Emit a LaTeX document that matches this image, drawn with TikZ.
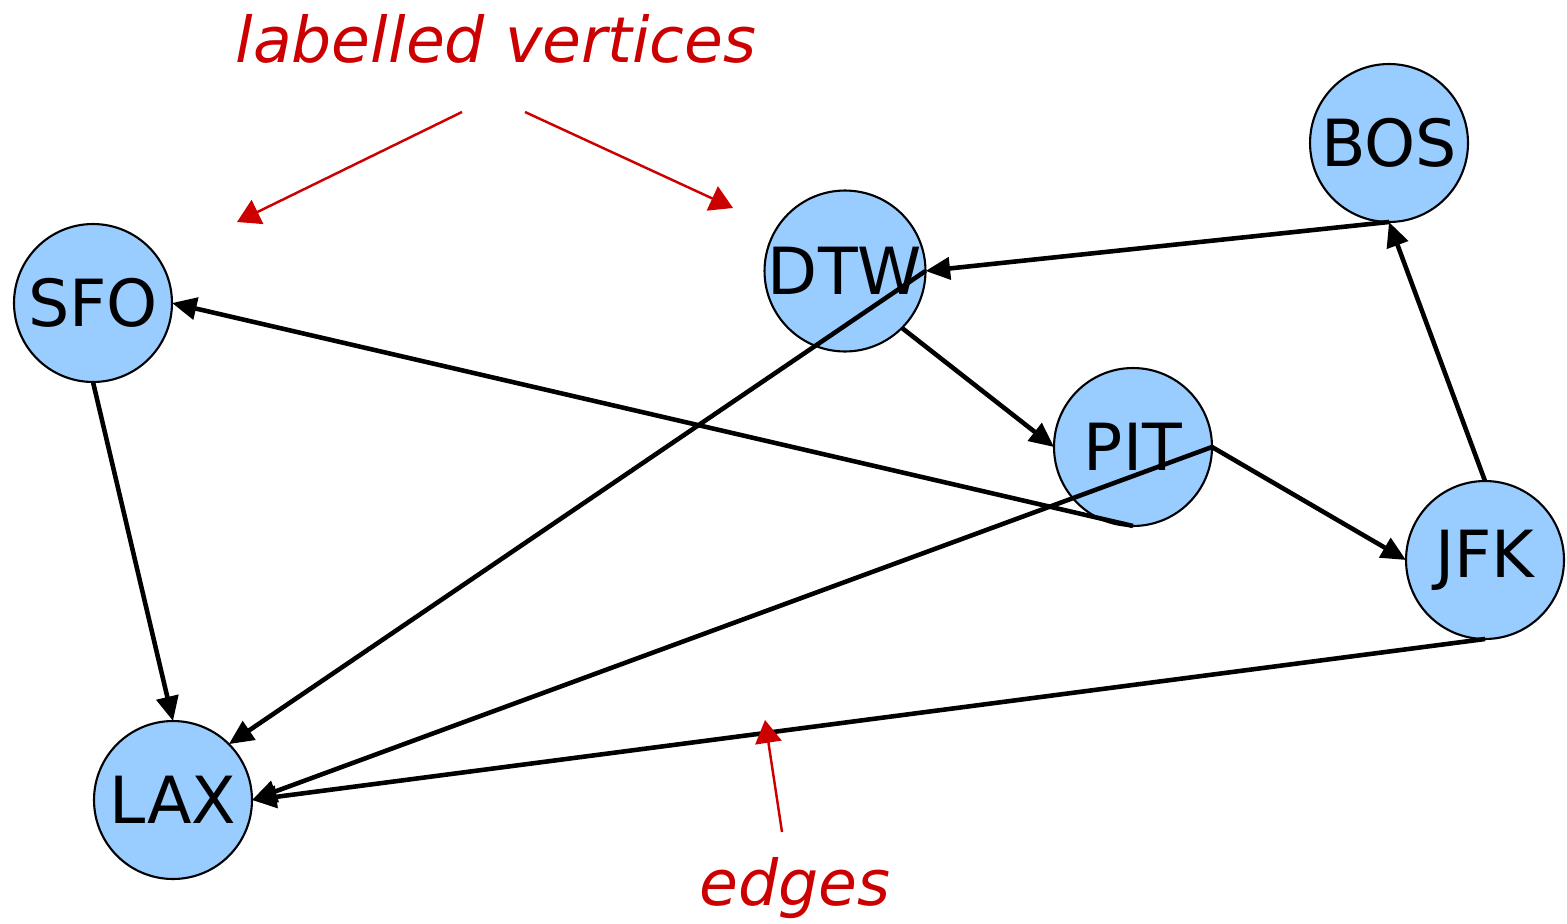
\documentclass[tikz,border=0pt]{standalone}
\usepackage{fontspec}
\setmainfont{DejaVu Sans}
\usetikzlibrary{arrows.meta}
\definecolor{vfill}{HTML}{99CCFF}
\definecolor{annot}{HTML}{CC0000}
\begin{document}
\begin{tikzpicture}[x=0.02cm,y=-0.02cm,
  vertex/.style={circle,draw=black,line width=1.2pt,fill=vfill,minimum size=3.16cm,
    inner sep=0pt,outer sep=0pt,font=\fontsize{37}{41}\selectfont},
  edge/.style={line width=2.6pt,-{Triangle[length=14pt,width=12.5pt]}},
  note/.style={annot,line width=1.4pt,-{Triangle[length=13pt,width=15pt]}},
  notetext/.style={text=annot,font=\fontsize{36}{40}\selectfont\itshape,inner sep=0pt}]
\useasboundingbox (0,0) rectangle (1567,923);

% airports
\node[vertex] (SFO) at (93,303) {SFO};
\node[vertex] (DTW) at (845,271) {DTW};
\node[vertex] (BOS) at (1389,143) {BOS};
\node[vertex] (PIT) at (1133,447) {PIT};
\node[vertex] (JFK) at (1485,560) {JFK};
\node[vertex] (LAX) at (173,800) {LAX};

% flights
\draw[edge] (SFO.south) -- (LAX.north);
\draw[edge] (BOS.south) -- (DTW.east);
\draw[edge] (JFK.north) -- (BOS.south);
\draw[edge] (DTW.-45) -- (PIT.west);
\draw[edge] (PIT.east) -- (JFK.west);
\draw[edge] (PIT.south) -- (SFO.east);
\draw[edge] (DTW.east) -- (LAX.45);
\draw[edge] (PIT.east) -- (LAX.east);
\draw[edge] (JFK.south) -- (LAX.east);

% annotations
\node[notetext,anchor=base] (lv) at (496,62) {labelled vertices};
\node[notetext,anchor=base] (ed) at (795,905) {edges};
\coordinate (lvA) at (462,112);
\coordinate (lvB) at (525,112);
\coordinate (lvAend) at (237,222);
\coordinate (lvBend) at (733,208);
\coordinate (edA) at (782,832);
\coordinate (edAend) at (765,720);
\draw[note] (lvA) -- (lvAend);
\draw[note] (lvB) -- (lvBend);
\draw[note] (edA) -- (edAend);
\end{tikzpicture}
\end{document}
